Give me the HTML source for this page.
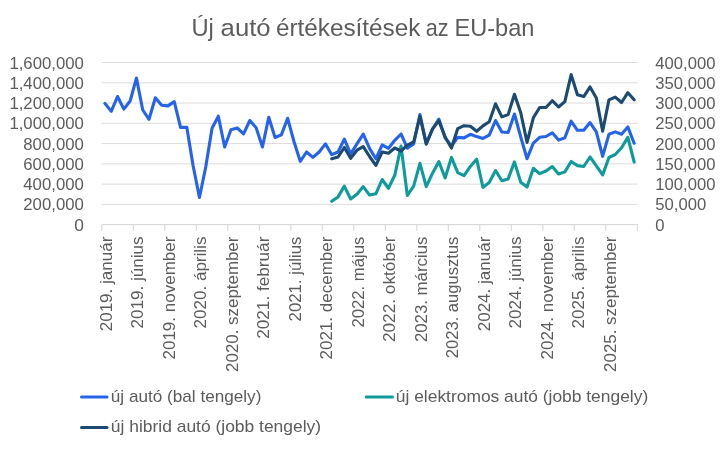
<!DOCTYPE html>
<html><head><meta charset="utf-8"><title>Új autó értékesítések az EU-ban</title>
<style>html,body{margin:0;padding:0;background:#fff}svg{display:block;will-change:transform}text{font-family:"Liberation Sans",sans-serif;fill:#5c5c5c}</style></head><body>
<svg width="725" height="449" viewBox="0 0 725 449">
<rect width="725" height="449" fill="#fff"/>
<text x="191.4" y="35.7" font-size="24.2" textLength="22.4" lengthAdjust="spacingAndGlyphs">Új</text>
<text x="220.6" y="35.7" font-size="24.2" textLength="50.0" lengthAdjust="spacingAndGlyphs">autó</text>
<text x="276.0" y="35.7" font-size="24.2" textLength="144.4" lengthAdjust="spacingAndGlyphs">értékesítések</text>
<text x="425.8" y="35.7" font-size="24.2" textLength="22.8" lengthAdjust="spacingAndGlyphs">az</text>
<text x="454.4" y="35.7" font-size="24.2" textLength="80.0" lengthAdjust="spacingAndGlyphs">EU-ban</text>
<line x1="101.8" x2="637.6" y1="62.50" y2="62.50" stroke="#dcdcdc" stroke-width="1"/>
<line x1="101.8" x2="637.6" y1="82.77" y2="82.77" stroke="#dcdcdc" stroke-width="1"/>
<line x1="101.8" x2="637.6" y1="103.04" y2="103.04" stroke="#dcdcdc" stroke-width="1"/>
<line x1="101.8" x2="637.6" y1="123.31" y2="123.31" stroke="#dcdcdc" stroke-width="1"/>
<line x1="101.8" x2="637.6" y1="143.58" y2="143.58" stroke="#dcdcdc" stroke-width="1"/>
<line x1="101.8" x2="637.6" y1="163.85" y2="163.85" stroke="#dcdcdc" stroke-width="1"/>
<line x1="101.8" x2="637.6" y1="184.12" y2="184.12" stroke="#dcdcdc" stroke-width="1"/>
<line x1="101.8" x2="637.6" y1="204.39" y2="204.39" stroke="#dcdcdc" stroke-width="1"/>
<line x1="101.8" x2="638.1" y1="224.66" y2="224.66" stroke="#d4d4d4" stroke-width="1"/>
<line x1="101.80" x2="101.80" y1="224.66" y2="230.86" stroke="#d4d4d4" stroke-width="1"/>
<line x1="133.30" x2="133.30" y1="224.66" y2="230.86" stroke="#d4d4d4" stroke-width="1"/>
<line x1="164.80" x2="164.80" y1="224.66" y2="230.86" stroke="#d4d4d4" stroke-width="1"/>
<line x1="196.30" x2="196.30" y1="224.66" y2="230.86" stroke="#d4d4d4" stroke-width="1"/>
<line x1="227.80" x2="227.80" y1="224.66" y2="230.86" stroke="#d4d4d4" stroke-width="1"/>
<line x1="259.30" x2="259.30" y1="224.66" y2="230.86" stroke="#d4d4d4" stroke-width="1"/>
<line x1="290.80" x2="290.80" y1="224.66" y2="230.86" stroke="#d4d4d4" stroke-width="1"/>
<line x1="322.30" x2="322.30" y1="224.66" y2="230.86" stroke="#d4d4d4" stroke-width="1"/>
<line x1="353.80" x2="353.80" y1="224.66" y2="230.86" stroke="#d4d4d4" stroke-width="1"/>
<line x1="385.30" x2="385.30" y1="224.66" y2="230.86" stroke="#d4d4d4" stroke-width="1"/>
<line x1="416.80" x2="416.80" y1="224.66" y2="230.86" stroke="#d4d4d4" stroke-width="1"/>
<line x1="448.30" x2="448.30" y1="224.66" y2="230.86" stroke="#d4d4d4" stroke-width="1"/>
<line x1="479.80" x2="479.80" y1="224.66" y2="230.86" stroke="#d4d4d4" stroke-width="1"/>
<line x1="511.30" x2="511.30" y1="224.66" y2="230.86" stroke="#d4d4d4" stroke-width="1"/>
<line x1="542.80" x2="542.80" y1="224.66" y2="230.86" stroke="#d4d4d4" stroke-width="1"/>
<line x1="574.30" x2="574.30" y1="224.66" y2="230.86" stroke="#d4d4d4" stroke-width="1"/>
<line x1="605.80" x2="605.80" y1="224.66" y2="230.86" stroke="#d4d4d4" stroke-width="1"/>
<line x1="637.30" x2="637.30" y1="224.66" y2="230.86" stroke="#d4d4d4" stroke-width="1"/>
<text x="9.4" y="68.5" font-size="15.7" textLength="74.5" lengthAdjust="spacingAndGlyphs">1,600,000</text>
<text x="9.4" y="88.8" font-size="15.7" textLength="74.5" lengthAdjust="spacingAndGlyphs">1,400,000</text>
<text x="9.4" y="109.0" font-size="15.7" textLength="74.5" lengthAdjust="spacingAndGlyphs">1,200,000</text>
<text x="9.4" y="129.3" font-size="15.7" textLength="74.5" lengthAdjust="spacingAndGlyphs">1,000,000</text>
<text x="23.3" y="149.6" font-size="15.7" textLength="60.6" lengthAdjust="spacingAndGlyphs">800,000</text>
<text x="23.3" y="169.8" font-size="15.7" textLength="60.6" lengthAdjust="spacingAndGlyphs">600,000</text>
<text x="23.3" y="190.1" font-size="15.7" textLength="60.6" lengthAdjust="spacingAndGlyphs">400,000</text>
<text x="23.3" y="210.4" font-size="15.7" textLength="60.6" lengthAdjust="spacingAndGlyphs">200,000</text>
<text x="74.2" y="230.7" font-size="15.7" textLength="9.7" lengthAdjust="spacingAndGlyphs">0</text>
<text x="655.3" y="68.5" font-size="15.7" textLength="60.2" lengthAdjust="spacingAndGlyphs">400,000</text>
<text x="655.3" y="88.8" font-size="15.7" textLength="60.2" lengthAdjust="spacingAndGlyphs">350,000</text>
<text x="655.3" y="109.0" font-size="15.7" textLength="60.2" lengthAdjust="spacingAndGlyphs">300,000</text>
<text x="655.3" y="129.3" font-size="15.7" textLength="60.2" lengthAdjust="spacingAndGlyphs">250,000</text>
<text x="655.3" y="149.6" font-size="15.7" textLength="60.2" lengthAdjust="spacingAndGlyphs">200,000</text>
<text x="655.3" y="169.8" font-size="15.7" textLength="60.2" lengthAdjust="spacingAndGlyphs">150,000</text>
<text x="655.3" y="190.1" font-size="15.7" textLength="60.2" lengthAdjust="spacingAndGlyphs">100,000</text>
<text x="655.3" y="210.4" font-size="15.7" textLength="51.0" lengthAdjust="spacingAndGlyphs">50,000</text>
<text x="655.3" y="230.7" font-size="15.7" textLength="9.3" lengthAdjust="spacingAndGlyphs">0</text>
<text transform="translate(111.95,331.3) rotate(-90)" font-size="16.2" textLength="94.7" lengthAdjust="spacingAndGlyphs">2019. január</text>
<text transform="translate(143.45,328.4) rotate(-90)" font-size="16.2" textLength="91.8" lengthAdjust="spacingAndGlyphs">2019. június</text>
<text transform="translate(174.95,359.5) rotate(-90)" font-size="16.2" textLength="122.9" lengthAdjust="spacingAndGlyphs">2019. november</text>
<text transform="translate(206.45,328.4) rotate(-90)" font-size="16.2" textLength="91.8" lengthAdjust="spacingAndGlyphs">2020. április</text>
<text transform="translate(237.95,371.9) rotate(-90)" font-size="16.2" textLength="135.3" lengthAdjust="spacingAndGlyphs">2020. szeptember</text>
<text transform="translate(269.45,338.8) rotate(-90)" font-size="16.2" textLength="102.2" lengthAdjust="spacingAndGlyphs">2021. február</text>
<text transform="translate(300.95,321.4) rotate(-90)" font-size="16.2" textLength="84.8" lengthAdjust="spacingAndGlyphs">2021. július</text>
<text transform="translate(332.45,359.5) rotate(-90)" font-size="16.2" textLength="122.9" lengthAdjust="spacingAndGlyphs">2021. december</text>
<text transform="translate(363.95,327.6) rotate(-90)" font-size="16.2" textLength="91.0" lengthAdjust="spacingAndGlyphs">2022. május</text>
<text transform="translate(395.45,342.1) rotate(-90)" font-size="16.2" textLength="105.5" lengthAdjust="spacingAndGlyphs">2022. október</text>
<text transform="translate(426.95,342.1) rotate(-90)" font-size="16.2" textLength="105.5" lengthAdjust="spacingAndGlyphs">2023. március</text>
<text transform="translate(458.45,358.2) rotate(-90)" font-size="16.2" textLength="121.6" lengthAdjust="spacingAndGlyphs">2023. augusztus</text>
<text transform="translate(489.95,331.3) rotate(-90)" font-size="16.2" textLength="94.7" lengthAdjust="spacingAndGlyphs">2024. január</text>
<text transform="translate(521.45,328.4) rotate(-90)" font-size="16.2" textLength="91.8" lengthAdjust="spacingAndGlyphs">2024. június</text>
<text transform="translate(552.95,359.5) rotate(-90)" font-size="16.2" textLength="122.9" lengthAdjust="spacingAndGlyphs">2024. november</text>
<text transform="translate(584.45,328.4) rotate(-90)" font-size="16.2" textLength="91.8" lengthAdjust="spacingAndGlyphs">2025. április</text>
<text transform="translate(615.95,371.9) rotate(-90)" font-size="16.2" textLength="135.3" lengthAdjust="spacingAndGlyphs">2025. szeptember</text>
<polyline points="104.95,103.4 111.25,111.4 117.55,96.5 123.85,109.1 130.15,101.0 136.45,78.1 142.75,110.0 149.05,119.3 155.35,97.8 161.65,105.2 167.95,105.9 174.25,101.6 180.55,127.4 186.85,127.4 193.15,166.0 199.45,197.5 205.75,167.0 212.05,128.3 218.35,116.2 224.65,147.0 230.95,129.8 237.25,128.0 243.55,133.9 249.85,120.5 256.15,127.7 262.45,147.0 268.75,117.3 275.05,137.5 281.35,134.9 287.65,118.3 293.95,141.5 300.25,161.3 306.55,152.0 312.85,157.4 319.15,152.0 325.45,143.9 331.75,154.7 338.05,152.0 344.35,139.1 350.65,153.8 356.95,143.9 363.25,134.1 369.55,148.4 375.85,158.8 382.15,144.8 388.45,148.4 394.75,140.3 401.05,134.0 407.35,148.1 413.65,144.0 419.95,114.6 426.25,143.5 432.55,129.0 438.85,119.1 445.15,137.9 451.45,146.0 457.75,137.4 464.05,137.9 470.35,134.3 476.65,136.6 482.95,138.4 489.25,135.2 495.55,120.5 501.85,132.0 508.15,132.5 514.45,114.0 520.75,137.0 527.05,158.7 533.35,143.2 539.65,137.3 545.95,136.5 552.25,132.8 558.55,140.1 564.85,137.8 571.15,121.1 577.45,130.3 583.75,130.3 590.05,122.6 596.35,131.9 602.65,156.3 608.95,134.2 615.25,131.9 621.55,134.2 627.85,127.0 634.15,143.2" stroke="#2563eb" fill="none" stroke-width="3.1" stroke-linejoin="round" stroke-linecap="round"/>
<polyline points="331.75,201.3 338.05,196.9 344.35,186.1 350.65,199.0 356.95,194.2 363.25,186.6 369.55,195.1 375.85,193.8 382.15,179.5 388.45,188.3 394.75,175.3 401.05,146.1 407.35,195.5 413.65,186.1 419.95,163.3 426.25,186.6 432.55,173.2 438.85,161.5 445.15,178.0 451.45,157.4 457.75,172.7 464.05,175.7 470.35,166.4 476.65,159.2 482.95,187.4 489.25,182.5 495.55,170.5 501.85,180.7 508.15,178.9 514.45,161.9 520.75,182.3 527.05,187.1 533.35,168.3 539.65,173.7 545.95,171.0 552.25,166.5 558.55,174.0 564.85,171.9 571.15,161.5 577.45,165.6 583.75,166.5 590.05,157.0 596.35,165.9 602.65,174.9 608.95,157.5 615.25,154.5 621.55,147.7 627.85,137.3 634.15,162.0" stroke="#0f9a9c" fill="none" stroke-width="3.1" stroke-linejoin="round" stroke-linecap="round"/>
<polyline points="331.75,158.8 338.05,157.0 344.35,147.5 350.65,158.3 356.95,150.2 363.25,146.6 369.55,156.5 375.85,165.4 382.15,152.0 388.45,153.3 394.75,148.0 401.05,151.2 407.35,145.1 413.65,142.0 419.95,116.4 426.25,144.2 432.55,128.9 438.85,120.9 445.15,137.0 451.45,148.1 457.75,128.6 464.05,125.7 470.35,126.2 476.65,131.3 482.95,125.9 489.25,121.8 495.55,103.8 501.85,116.9 508.15,114.6 514.45,94.3 520.75,112.8 527.05,142.4 533.35,117.8 539.65,107.5 545.95,107.5 552.25,100.7 558.55,107.0 564.85,101.6 571.15,74.7 577.45,94.8 583.75,96.6 590.05,86.9 596.35,98.0 602.65,131.2 608.95,99.8 615.25,97.1 621.55,102.5 627.85,92.7 634.15,99.8" stroke="#1c4a70" fill="none" stroke-width="3.1" stroke-linejoin="round" stroke-linecap="round"/>
<line x1="81.5" x2="107" y1="397.1" y2="397.1" stroke="#2563eb" stroke-width="3" stroke-linecap="round"/>
<line x1="366.2" x2="392.5" y1="397.1" y2="397.1" stroke="#0f9a9c" stroke-width="3" stroke-linecap="round"/>
<line x1="81.5" x2="107" y1="427.4" y2="427.4" stroke="#1c4a70" stroke-width="3" stroke-linecap="round"/>
<text x="110.8" y="402.0" font-size="16.2" textLength="150.6" lengthAdjust="spacingAndGlyphs">új autó (bal tengely)</text>
<text x="395.8" y="402.0" font-size="16.2" textLength="252.4" lengthAdjust="spacingAndGlyphs">új elektromos autó (jobb tengely)</text>
<text x="110.8" y="432.3" font-size="16.2" textLength="210.3" lengthAdjust="spacingAndGlyphs">új hibrid autó (jobb tengely)</text>
</svg></body></html>
